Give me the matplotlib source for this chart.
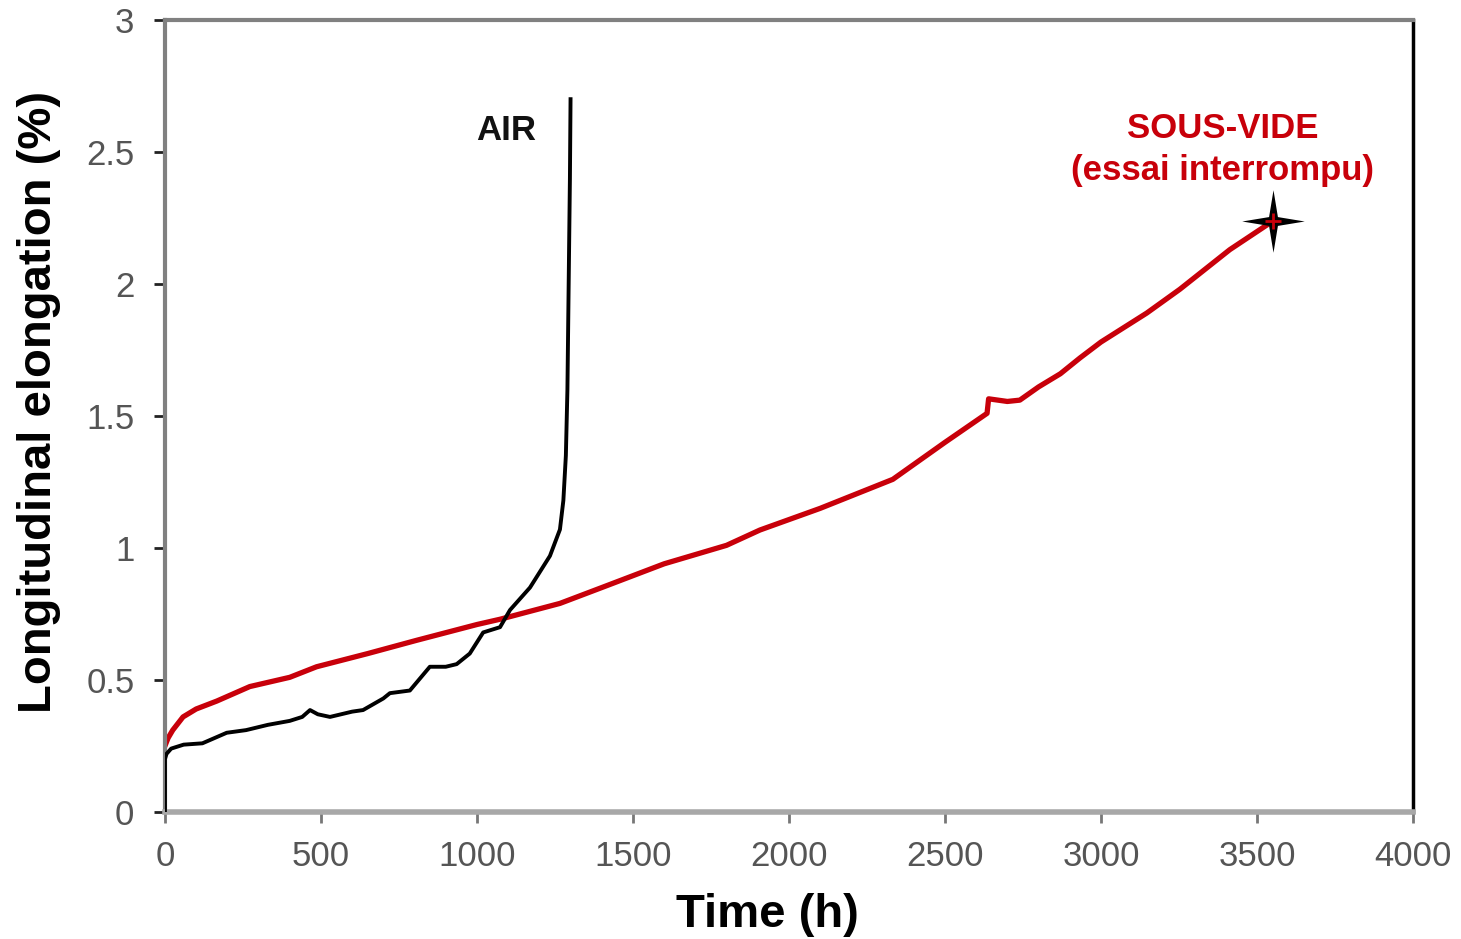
import numpy as np
import matplotlib.pyplot as plt
from matplotlib.path import Path

# AIR test (black curve)
air_t = [0, 0, 5, 20, 60, 120, 198, 260, 330, 400, 440, 465, 490, 529, 600, 635,
         700, 721, 785, 849, 900, 935, 977, 1020, 1074, 1106, 1170, 1234, 1266,
         1277, 1285, 1290, 1294, 1298, 1300]
air_e = [0, 0.20, 0.22, 0.24, 0.255, 0.26, 0.30, 0.31, 0.33, 0.345, 0.36, 0.386,
         0.37, 0.36, 0.38, 0.386, 0.43, 0.45, 0.46, 0.55, 0.55, 0.56, 0.60, 0.68,
         0.70, 0.765, 0.85, 0.97, 1.07, 1.18, 1.35, 1.6, 2.0, 2.4, 2.70]

# vacuum test (red curve), interrupted
vac_t = [0, 10, 25, 58, 100, 166, 272, 400, 486, 650, 806, 1000, 1074, 1266, 1400,
         1600, 1800, 1907, 2100, 2333, 2500, 2635, 2640, 2700, 2740, 2800, 2870,
         2933, 3000, 3147, 3253, 3413, 3553]
vac_e = [0.25, 0.28, 0.31, 0.36, 0.39, 0.42, 0.475, 0.51, 0.55, 0.60, 0.65, 0.71,
         0.73, 0.79, 0.85, 0.94, 1.01, 1.068, 1.15, 1.26, 1.40, 1.51, 1.565, 1.555,
         1.56, 1.61, 1.66, 1.72, 1.78, 1.89, 1.98, 2.13, 2.24]

x_ticks = [0, 500, 1000, 1500, 2000, 2500, 3000, 3500, 4000]
y_ticks = [0, 0.5, 1, 1.5, 2, 2.5, 3]
y_labels = ['0', '0.5', '1', '1.5', '2', '2.5', '3']

RED = '#c8000a'

plt.rcParams['font.family'] = ['Liberation Sans', 'DejaVu Sans']

fig = plt.figure(figsize=(14.61, 9.39), dpi=100)
ax = fig.add_axes([0.1129, 0.1353, 0.8542, 0.8434])

ax.plot(air_t, air_e, color='black', lw=2.8, zorder=3)
ax.plot(vac_t, vac_e, color=RED, lw=3.8, zorder=2)

# thin four-pointed star at end of vacuum test
r = 0.2
ang = np.arange(8) * np.pi / 4 + np.pi / 2
rad = np.where(np.arange(8) % 2 == 0, 1.0, r)
verts = np.column_stack([rad * np.cos(ang), rad * np.sin(ang)])
star = Path(np.vstack([verts, verts[:1]]), closed=True)
ax.plot(vac_t[-1], vac_e[-1], marker=star, ms=45, color='black',
        markeredgewidth=0, zorder=4)
ax.plot(vac_t[-1], vac_e[-1], marker='+', ms=12, color=RED, mew=2, zorder=5)

ax.text(1095, 2.58, 'AIR', fontsize=25, fontweight='bold', color='#111111',
        ha='center', va='center')
ax.text(3390, 2.59, 'SOUS-VIDE', fontsize=25, fontweight='bold', color=RED,
        ha='center', va='center')
ax.text(3390, 2.43, '(essai interrompu)', fontsize=25, fontweight='bold',
        color=RED, ha='center', va='center')

ax.set_xlim(0, 4000)
ax.set_ylim(0, 3)
ax.set_xticks(x_ticks)
ax.set_yticks(y_ticks)
ax.set_yticklabels(y_labels)
ax.tick_params(axis='both', labelsize=25, labelcolor='#555555', length=8,
               width=2, direction='out')
ax.tick_params(axis='x', pad=12, color='#777777')
ax.tick_params(axis='y', pad=14, color='#222222')

for side in ['left', 'top']:
    ax.spines[side].set_color('#808080')
    ax.spines[side].set_linewidth(3)
ax.spines['bottom'].set_color('#a8a8a8')
ax.spines['bottom'].set_linewidth(4)
ax.spines['right'].set_color('black')
ax.spines['right'].set_linewidth(2.5)

ax.set_xlabel('Time (h)', fontsize=34, fontweight='bold')
ax.set_ylabel('Longitudinal elongation (%)', fontsize=34, fontweight='bold')
ax.xaxis.set_label_coords(0.483, -0.102)
ax.yaxis.set_label_coords(-0.083, 0.518)

fig.savefig('out.png', dpi=100)
